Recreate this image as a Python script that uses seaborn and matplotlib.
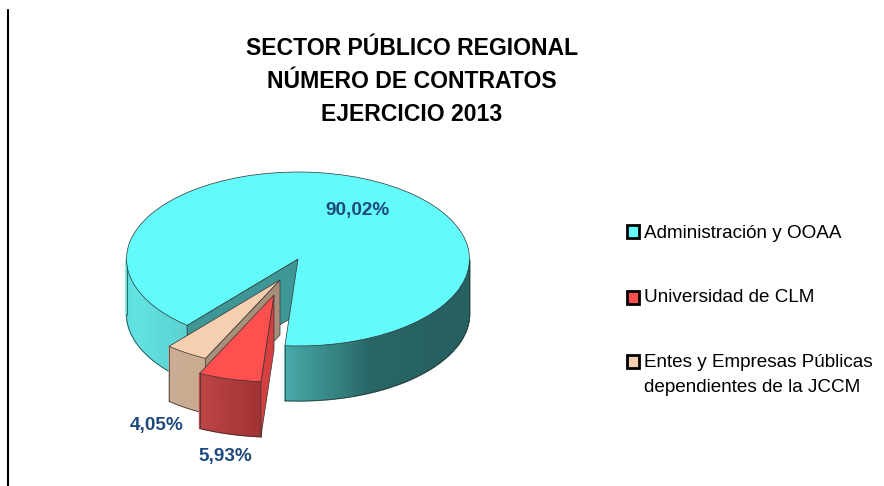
import numpy as np
import matplotlib
matplotlib.use("Agg")
import matplotlib.pyplot as plt
from matplotlib.lines import Line2D
from matplotlib.patches import Rectangle
import seaborn as sns

# Data
categories = ["Administración y OOAA", "Universidad de CLM", "Entes y Empresas Públicas\ndependientes de la JCCM"]
values = [90.02, 5.93, 4.05]
title_lines = ["SECTOR PÚBLICO REGIONAL", "NÚMERO DE CONTRATOS", "EJERCICIO 2013"]

# Style
sns.set_theme(style="white")
plt.rcParams["font.family"] = ["Liberation Sans", "DejaVu Sans"]
top_colors = sns.color_palette(["#62FAFA", "#FF4F4F", "#F6CFB0"])
W, H = 884, 486
RX, RY, DEPTH = 171.5, 87.0, 55.0
centers_px = [(298, 259), (274, 295), (280, 280)]
cut_colors = ["#3F9696", "#D63F3F", "#A88F7A"]
label_px = [(357, 210), (225, 456), (157, 425)]
legend_y = [232, 297, 361]


def X(px):
    return px / RX


def Y(py):
    return (H - py) / RY


def wall_color(i, theta):
    """Shading of the outer wall for slice i at angle theta (degrees, 0-360)."""
    if i == 0:
        if theta > 250:  # right part
            stops = sns.blend_palette(["#48ABAB", "#296666", "#266060"], 101)
            u = np.clip((theta - 265) / 95 * 1.6, 0, 1)
        else:
            stops = sns.blend_palette(["#5CDCDC", "#62E2E2", "#5BD2D2"], 101)
            u = np.clip((theta - 180) / 49, 0, 1)
    elif i == 1:
        stops = sns.blend_palette(["#C04646", "#A23333"], 101)
        u = np.clip((theta - 243) / 22, 0, 1)
    else:
        stops = sns.blend_palette(["#CBAE95", "#C8AA90"], 101)
        u = np.clip((theta - 229) / 15, 0, 1)
    return stops[int(u * 100)]


fig = plt.figure(figsize=(W / 100, H / 100), dpi=100, facecolor="white")
ax = fig.add_axes([0, 0, 1, 1])

wedges, _ = ax.pie(values, colors=top_colors, startangle=229.7, counterclock=False,
                   radius=1, wedgeprops=dict(edgecolor="#333333", linewidth=0.5))
ax.set_aspect("auto")
ax.set_xlim(0, W / RX)
ax.set_ylim(0, H / RY)
ax.axis("off")

edge = dict(color="#333333", lw=0.5, solid_capstyle="round")
d = DEPTH / RY
# draw back-to-front: main, beige, red
for order, i in enumerate([0, 2, 1]):
    w = wedges[i]
    cx, cy = X(centers_px[i][0]), Y(centers_px[i][1])
    w.set_center((cx, cy))
    z = 2 + order * 3
    w.set_zorder(z + 2)
    t1, t2 = w.theta1, w.theta2
    # outer wall, slice by slice
    angles = np.arange(t1, t2 + 1, 1.0)
    angles = np.append(angles[angles < t2], t2)
    for a, b in zip(angles[:-1], angles[1:]):
        mid = (a + b) / 2
        if np.sin(np.radians(mid)) > 0:
            continue
        ra, rb = np.radians([a, b])
        xs = [cx + np.cos(ra), cx + np.cos(rb), cx + np.cos(rb), cx + np.cos(ra)]
        ys = [cy + np.sin(ra), cy + np.sin(rb), cy + np.sin(rb) - d, cy + np.sin(ra) - d]
        c = wall_color(i, mid % 360)
        ax.fill(xs, ys, facecolor=c, edgecolor=c, lw=1.0, zorder=z)
    vis = angles[np.sin(np.radians(angles)) <= 0.001]
    for seg in np.split(vis, np.where(np.diff(vis) > 2)[0] + 1):
        r = np.radians(seg)
        ax.plot(cx + np.cos(r), cy + np.sin(r) - d, zorder=z + 1, **edge)
        for e in (r[0], r[-1]):
            ax.plot([cx + np.cos(e)] * 2, [cy + np.sin(e), cy + np.sin(e) - d], zorder=z + 1, **edge)
    # cut face
    r2 = np.radians(t2)
    ex, ey = cx + np.cos(r2), cy + np.sin(r2)
    ax.fill([cx, ex, ex, cx], [cy, ey, ey - d, cy - d], facecolor=cut_colors[i],
            edgecolor="#333333", lw=0.5, zorder=z + 1)

# percentage labels
for v, (px, py) in zip(values, label_px):
    ax.text(X(px), Y(py), f"{v:.2f}%".replace(".", ","), ha="center", va="center",
            fontsize=13.6, fontweight="bold", color="#1F497D", zorder=30)

# title
for line, py in zip(title_lines, [48, 81, 114]):
    ax.text(X(412), Y(py), line, ha="center", va="center", fontsize=16.6,
            fontweight="bold", color="black")

# legend
for c, label, py in zip(top_colors, categories, legend_y):
    fig.add_artist(Rectangle((627 / W, 1 - (py + 6.5) / H), 12 / W, 13 / H, transform=fig.transFigure,
                             facecolor=c, edgecolor="black", lw=2.0))
    ax.text(X(644), Y(py - 7.5), label, ha="left", va="top", fontsize=13.6, color="black",
            linespacing=1.68)

# left rule
fig.add_artist(Line2D([8 / W, 8 / W], [0, 1 - 10 / H], transform=fig.transFigure, color="black", lw=1.5))

fig.savefig("out.png", dpi=100, facecolor="white")
